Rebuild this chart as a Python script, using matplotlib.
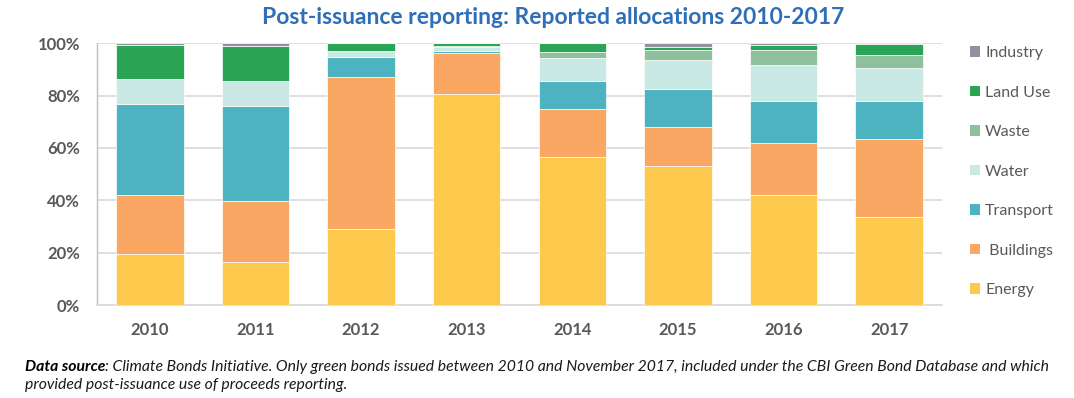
import matplotlib
matplotlib.use("Agg")
import matplotlib.pyplot as plt
import numpy as np
from matplotlib.patches import Patch

years = ["2010", "2011", "2012", "2013", "2014", "2015", "2016", "2017"]
energy    = [19.5, 16.4, 29.2, 80.5, 56.6, 53.1, 42.0, 33.6]
buildings = [22.7, 23.2, 57.8, 15.7, 18.4, 15.1, 19.8, 29.7]
transport = [34.5, 36.5,  7.9,  1.0, 10.6, 14.5, 16.3, 14.7]
water     = [ 9.7,  9.5,  2.0,  1.3,  8.7, 11.1, 13.5, 12.4]
waste     = [ 0.0,  0.0,  0.0,  0.6,  2.4,  3.7,  6.0,  5.3]
land_use  = [13.0, 13.5,  3.1,  0.9,  3.3,  1.2,  1.9,  4.1]
industry  = [ 0.6,  0.9,  0.0,  0.0,  0.0,  1.3,  0.5,  0.2]

series = [
    ("Energy", energy, "#FECA4D"),
    (" Buildings", buildings, "#F9A762"),
    ("Transport", transport, "#4EB3C0"),
    ("Water", water, "#CAE9E5"),
    ("Waste", waste, "#8EC09D"),
    ("Land Use", land_use, "#2BA456"),
    ("Industry", industry, "#9191A0"),
]

W, H = 1074, 398
fig = plt.figure(figsize=(W / 100, H / 100), dpi=100)
ax = fig.add_axes([97 / W, 1 - 305 / H, (942 - 97) / W, (305 - 43.3) / H])

x = np.arange(len(years))
bottom = np.zeros(len(years))
for name, vals, col in series:
    v = np.array(vals)
    ax.bar(x, v, width=0.64, bottom=bottom, color=col, edgecolor="white",
           linewidth=0.5, zorder=3)
    bottom += v

ax.set_xlim(-0.5, len(years) - 0.5)
ax.set_ylim(0, 100)
ax.set_yticks([0, 20, 40, 60, 80, 100])
ax.set_yticklabels([f"{t}%" for t in [0, 20, 40, 60, 80, 100]])
ax.set_xticks(x)
ax.set_xticklabels(years)
ax.tick_params(axis="both", length=0, colors="#595959", labelsize=12)
for lab in ax.get_xticklabels() + ax.get_yticklabels():
    lab.set_fontweight("bold")
    lab.set_fontfamily("Lato")
ax.tick_params(axis="y", pad=12)
ax.tick_params(axis="x", pad=12)
ax.grid(axis="y", color="#D9D9D9", linewidth=1.2, zorder=0)
for s in ["top", "right"]:
    ax.spines[s].set_visible(False)
ax.spines["left"].set_color("#BFBFBF")
ax.spines["bottom"].set_color("#D9D9D9")
ax.spines["left"].set_linewidth(1.0)
ax.spines["bottom"].set_linewidth(1.2)

handles = [Patch(facecolor=c, edgecolor="none") for _, _, c in series][::-1]
labels = [n for n, _, _ in series][::-1]
leg = fig.legend(handles, labels, loc="upper left", bbox_to_anchor=(970 / W, 1 - 46 / H),
                 frameon=False, prop={"family": "Lato", "size": 11.5},
                 handlelength=0.65, handleheight=0.65, handletextpad=0.3,
                 labelspacing=1.6, borderaxespad=0, borderpad=0)
for t in leg.get_texts():
    t.set_color("#595959")

fig.text(553 / W, 1 - 17 / H, "Post-issuance reporting: Reported allocations 2010-2017",
         ha="center", va="center", fontsize=16.5, fontweight="bold", color="#2E6FB8",
         family="Lato")

fs = 11.35
t1 = fig.text(25 / W, 1 - 371 / H, "Data source", ha="left", va="baseline",
              fontsize=fs, color="black", family="Lato", fontweight="bold", style="italic")
ax.annotate(": Climate Bonds Initiative. Only green bonds issued between 2010 and November 2017, included under the CBI Green Bond Database and which",
            xy=(1, 0), xycoords=t1, ha="left", va="bottom", fontsize=fs, color="#1a1a1a",
            family="Lato", style="italic", annotation_clip=False)
fig.text(25 / W, 1 - 389 / H, "provided post-issuance use of proceeds reporting.", ha="left",
         va="baseline", fontsize=fs, color="#1a1a1a", family="Lato", style="italic")
fig.savefig("out.png", dpi=100)
